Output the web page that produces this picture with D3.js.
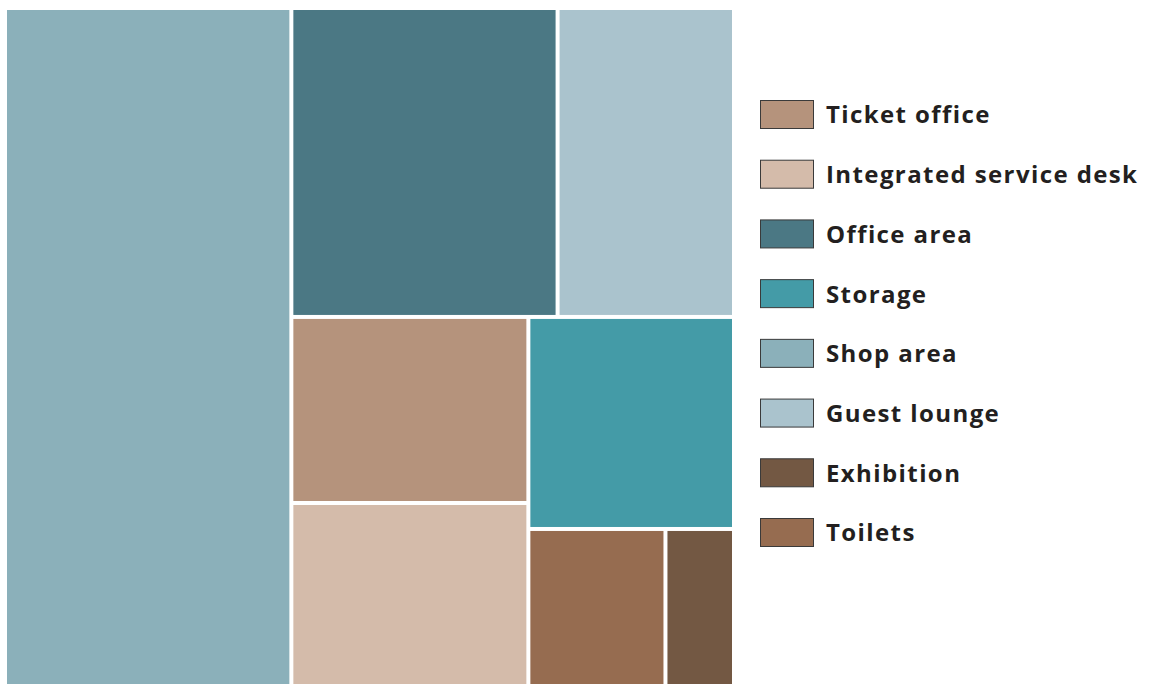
<!DOCTYPE html>
<html>
<head>
<meta charset="utf-8">
<script src="https://cdn.jsdelivr.net/npm/d3@7"></script>
<style>
  body { margin: 0; background: #fff; }
  svg { display: block; }
  .legend--text { font-family: "Open Sans", sans-serif; font-weight: 700; font-size: 24px; letter-spacing: 1.4px; fill: #231f20; }
</style>
</head>
<body>
<div id="graphic"></div>
<script>
// areas (share of floor space, %)
const categories = ["Shop area", "Office area", "Guest lounge", "Ticket office", "Integrated service desk", "Storage", "Toilets", "Exhibition"];
const values = [39.3, 16.6, 11.0, 8.9, 8.85, 8.8, 4.4, 2.2];
// how many cells go in each strip of the layout
const rowSizes = [1, 2, 2, 1, 1, 1];
const legendOrder = ["Ticket office", "Integrated service desk", "Office area", "Storage", "Shop area", "Guest lounge", "Exhibition", "Toilets"];
const colours = {
  "Ticket office": "#b5937c",
  "Integrated service desk": "#d4bbaa",
  "Office area": "#4b7884",
  "Storage": "#449ba7",
  "Shop area": "#8bb0ba",
  "Guest lounge": "#aac3cd",
  "Exhibition": "#735843",
  "Toilets": "#966c50"
};

const width = 1150, height = 684;
const margin = {top: 10, left: 7};
const mapW = 725, mapH = 676;

const svg = d3.select('#graphic').append('svg')
  .attr('width', width)
  .attr('height', height);

// strip tiling: each strip runs along the shorter side of what is left
function stripTile(parent, x0, y0, x1, y1) {
  const nodes = parent.children;
  let value = parent.value, i = 0;
  rowSizes.forEach(function (n) {
    const row = {children: nodes.slice(i, i + n), value: d3.sum(nodes.slice(i, i + n), d => d.value)};
    i += n;
    const k = row.value / value;
    if (x1 - x0 < y1 - y0) {
      const yEnd = y0 + (y1 - y0) * k;
      d3.treemapDice(row, x0, y0, x1, yEnd);
      y0 = yEnd;
    } else {
      const xEnd = x0 + (x1 - x0) * k;
      d3.treemapSlice(row, x0, y0, xEnd, y1);
      x0 = xEnd;
    }
    value -= row.value;
  });
}

const root = d3.hierarchy({children: categories.map((c, i) => ({name: c, value: values[i]}))})
  .sum(d => d.value || 0);

d3.treemap()
  .tile(stripTile)
  .size([mapW, mapH])
  .paddingInner(4)(root);

const map = svg.append('g')
  .attr('transform', 'translate(' + margin.left + ',' + margin.top + ')');

map.selectAll('rect')
  .data(root.leaves())
  .join('rect')
  .attr('x', d => d.x0)
  .attr('y', d => d.y0)
  .attr('width', d => d.x1 - d.x0)
  .attr('height', d => d.y1 - d.y0)
  .attr('fill', d => colours[d.data.name]);

// legend
const legendY = d3.scalePoint().domain(legendOrder).range([115, 533]);

const item = svg.append('g').selectAll('g')
  .data(legendOrder)
  .join('g')
  .attr('transform', d => 'translate(760,' + legendY(d) + ')');

item.append('rect')
  .attr('x', 0.5)
  .attr('y', -14.5)
  .attr('width', 53)
  .attr('height', 28)
  .attr('fill', d => colours[d])
  .attr('stroke', '#3a3a3a')
  .attr('stroke-width', 1);

item.append('text')
  .attr('class', 'legend--text')
  .attr('x', 66)
  .attr('dy', '0.35em')
  .text(d => d);
</script>
</body>
</html>
